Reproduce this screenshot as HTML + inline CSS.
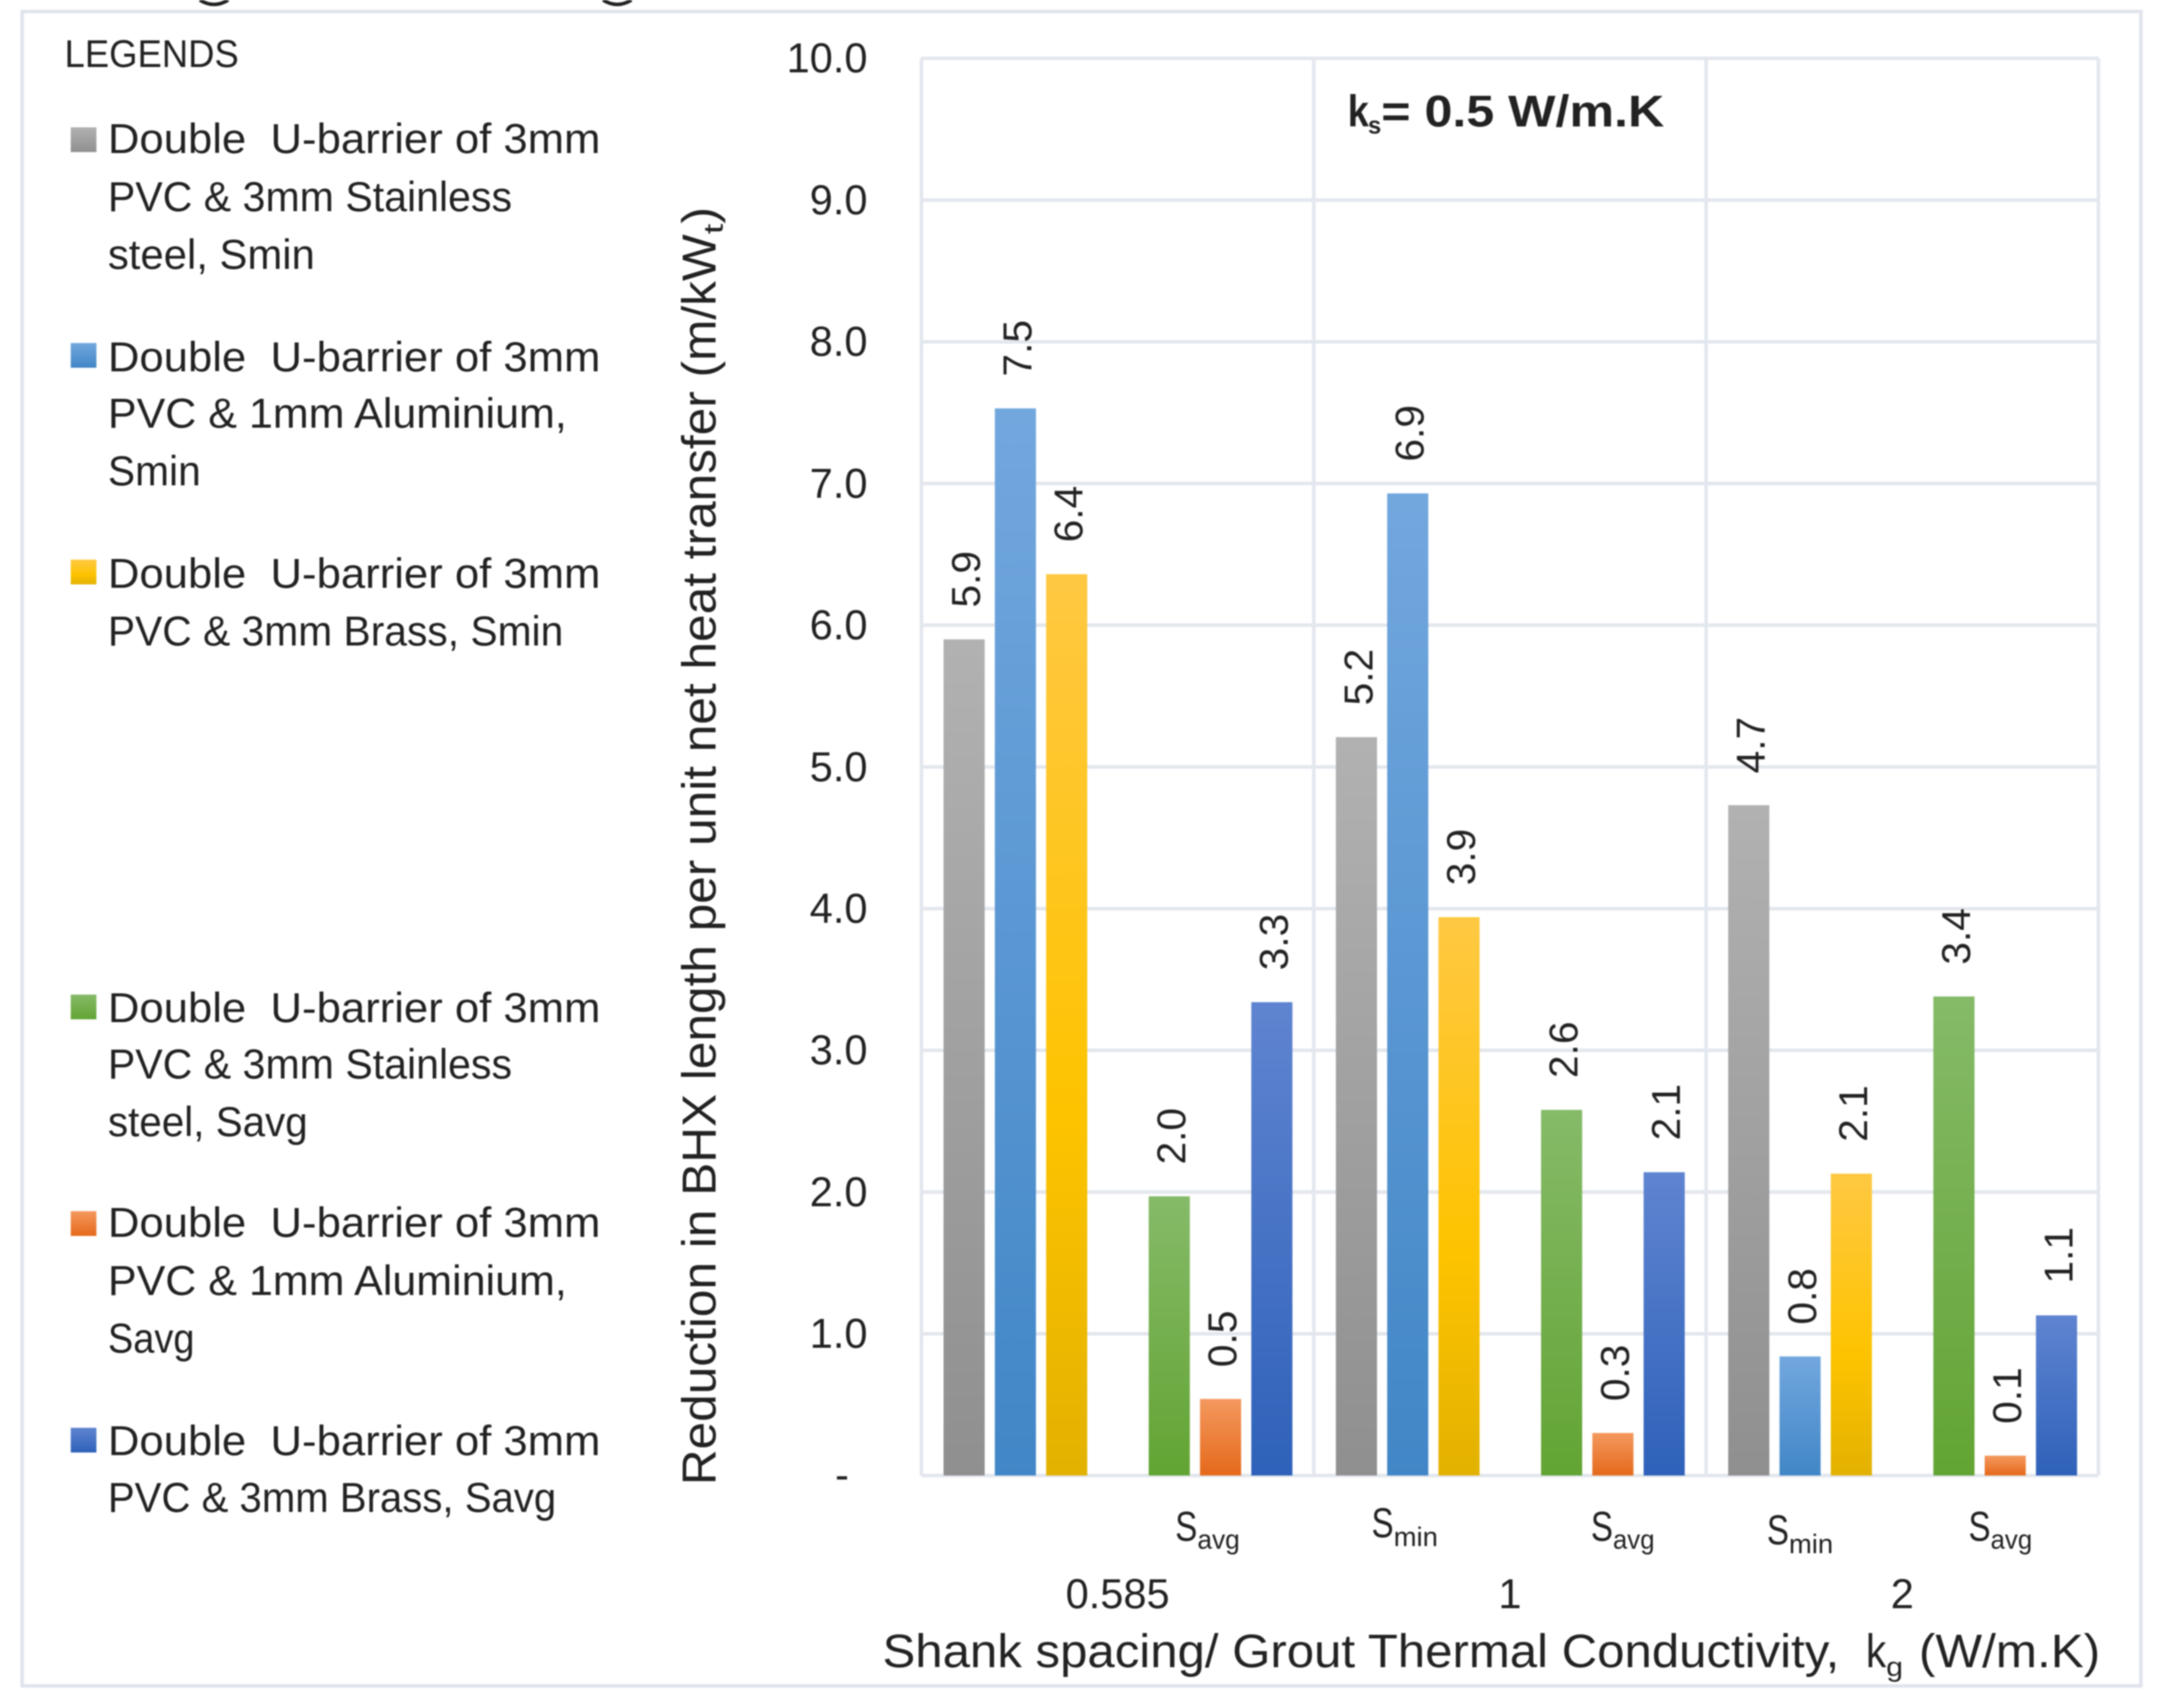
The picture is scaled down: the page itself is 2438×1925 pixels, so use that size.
<!DOCTYPE html>
<html lang="en">
<head>
<meta charset="utf-8">
<title>Reduction in BHX length chart</title>
<style>
html,body{margin:0;padding:0;background:#fff;}
svg{display:block;width:2438px;height:1925px;filter:blur(0.9px);}
text{font-family:"Liberation Sans",sans-serif;fill:#222;}
.lg{font-size:47px;}
.xs{font-size:47px;}
.sub{font-size:31px;}
</style>
</head>
<body>
<svg id="chart" xmlns="http://www.w3.org/2000/svg" width="2438" height="1925" viewBox="0 0 2446 1932" preserveAspectRatio="none">
<defs>
<linearGradient id="g0" x1="0" y1="0" x2="0" y2="1"><stop offset="0" stop-color="#b1b1b1"/><stop offset="1" stop-color="#8f8f8f"/></linearGradient>
<linearGradient id="g1" x1="0" y1="0" x2="0" y2="1"><stop offset="0" stop-color="#72a7de"/><stop offset="1" stop-color="#4186c6"/></linearGradient>
<linearGradient id="g2" x1="0" y1="0" x2="0" y2="1"><stop offset="0" stop-color="#ffc842"/><stop offset="0.6" stop-color="#fdc300"/><stop offset="1" stop-color="#e2b100"/></linearGradient>
<linearGradient id="g3" x1="0" y1="0" x2="0" y2="1"><stop offset="0" stop-color="#85ba68"/><stop offset="1" stop-color="#62a433"/></linearGradient>
<linearGradient id="g4" x1="0" y1="0" x2="0" y2="1"><stop offset="0" stop-color="#f4985e"/><stop offset="1" stop-color="#e4691a"/></linearGradient>
<linearGradient id="g5" x1="0" y1="0" x2="0" y2="1"><stop offset="0" stop-color="#5f84d0"/><stop offset="1" stop-color="#2e61b9"/></linearGradient>
</defs>

<rect width="2446" height="1932" fill="#ffffff"/>
<path d="M226 0 Q242 10 258 0" fill="none" stroke="#222" stroke-width="4"/>
<path d="M682 0 Q698 10 714 0" fill="none" stroke="#222" stroke-width="4"/>
<rect x="25" y="13" width="2396" height="1894" fill="none" stroke="#e0e4ec" stroke-width="4"/>

<g id="grid"></g>
<g id="bars"></g>
<g id="ticks"></g>
<g id="groups"></g>

<g>
<text x="73" y="76" font-size="44" textLength="197" lengthAdjust="spacingAndGlyphs">LEGENDS</text>

<g>
<rect x="80" y="144" width="29" height="28" fill="url(#g0)"/>
<text class="lg" x="122" y="173" textLength="557" lengthAdjust="spacingAndGlyphs" xml:space="preserve">Double  U-barrier of 3mm</text>
<text class="lg" x="122" y="239" textLength="457" lengthAdjust="spacingAndGlyphs">PVC &amp; 3mm Stainless</text>
<text class="lg" x="122" y="304" textLength="234" lengthAdjust="spacingAndGlyphs">steel, Smin</text>
</g>

<g>
<rect x="80" y="388" width="29" height="28" fill="url(#g1)"/>
<text class="lg" x="122" y="420" textLength="557" lengthAdjust="spacingAndGlyphs" xml:space="preserve">Double  U-barrier of 3mm</text>
<text class="lg" x="122" y="484" textLength="519" lengthAdjust="spacingAndGlyphs">PVC &amp; 1mm Aluminium,</text>
<text class="lg" x="122" y="549" textLength="105" lengthAdjust="spacingAndGlyphs">Smin</text>
</g>

<g>
<rect x="80" y="633" width="29" height="28" fill="url(#g2)"/>
<text class="lg" x="122" y="665" textLength="557" lengthAdjust="spacingAndGlyphs" xml:space="preserve">Double  U-barrier of 3mm</text>
<text class="lg" x="122" y="730" textLength="515" lengthAdjust="spacingAndGlyphs">PVC &amp; 3mm Brass, Smin</text>
</g>

<g>
<rect x="80" y="1125" width="29" height="28" fill="url(#g3)"/>
<text class="lg" x="122" y="1156" textLength="557" lengthAdjust="spacingAndGlyphs" xml:space="preserve">Double  U-barrier of 3mm</text>
<text class="lg" x="122" y="1220" textLength="457" lengthAdjust="spacingAndGlyphs">PVC &amp; 3mm Stainless</text>
<text class="lg" x="122" y="1285" textLength="226" lengthAdjust="spacingAndGlyphs">steel, Savg</text>
</g>

<g>
<rect x="80" y="1370" width="29" height="28" fill="url(#g4)"/>
<text class="lg" x="122" y="1399" textLength="557" lengthAdjust="spacingAndGlyphs" xml:space="preserve">Double  U-barrier of 3mm</text>
<text class="lg" x="122" y="1465" textLength="519" lengthAdjust="spacingAndGlyphs">PVC &amp; 1mm Aluminium,</text>
<text class="lg" x="122" y="1530" textLength="98" lengthAdjust="spacingAndGlyphs">Savg</text>
</g>

<g>
<rect x="80" y="1615" width="29" height="28" fill="url(#g5)"/>
<text class="lg" x="122" y="1646" textLength="557" lengthAdjust="spacingAndGlyphs" xml:space="preserve">Double  U-barrier of 3mm</text>
<text class="lg" x="122" y="1710" textLength="507" lengthAdjust="spacingAndGlyphs">PVC &amp; 3mm Brass, Savg</text>
</g>
</g>

<g transform="translate(809,1680) rotate(-90)">
<text x="0" y="0" font-size="54" textLength="1415" lengthAdjust="spacingAndGlyphs">Reduction in BHX length per unit net heat transfer (m/kW</text>
<text x="1415" y="8" font-size="31" textLength="12" lengthAdjust="spacingAndGlyphs">t</text>
<text x="1427" y="0" font-size="54" textLength="19" lengthAdjust="spacingAndGlyphs">)</text>
</g>

<g font-weight="700">
<text x="1524" y="143" font-size="50" textLength="24" lengthAdjust="spacingAndGlyphs">k</text>
<text x="1547" y="151" font-size="28" textLength="15" lengthAdjust="spacingAndGlyphs">s</text>
<text x="1562" y="143" font-size="50" textLength="320" lengthAdjust="spacingAndGlyphs">= 0.5 W/m.K</text>
</g>

<g>
<text class="xs" x="1329" y="1743" textLength="25" lengthAdjust="spacingAndGlyphs">S</text>
<text class="sub" x="1354" y="1752" textLength="48" lengthAdjust="spacingAndGlyphs">avg</text>
<text class="xs" x="1551" y="1739" textLength="25" lengthAdjust="spacingAndGlyphs">S</text>
<text class="sub" x="1576" y="1749" textLength="50" lengthAdjust="spacingAndGlyphs">min</text>
<text class="xs" x="1799" y="1743" textLength="25" lengthAdjust="spacingAndGlyphs">S</text>
<text class="sub" x="1824" y="1752" textLength="47" lengthAdjust="spacingAndGlyphs">avg</text>
<text class="xs" x="1998" y="1747" textLength="25" lengthAdjust="spacingAndGlyphs">S</text>
<text class="sub" x="2023" y="1757" textLength="50" lengthAdjust="spacingAndGlyphs">min</text>
<text class="xs" x="2226" y="1743" textLength="25" lengthAdjust="spacingAndGlyphs">S</text>
<text class="sub" x="2251" y="1752" textLength="47" lengthAdjust="spacingAndGlyphs">avg</text>
</g>

<g>
<text x="998" y="1886" font-size="53" textLength="1082" lengthAdjust="spacingAndGlyphs">Shank spacing/ Grout Thermal Conductivity,</text>
<text x="2110" y="1886" font-size="53" textLength="23" lengthAdjust="spacingAndGlyphs">k</text>
<text x="2133" y="1896" font-size="31" textLength="19" lengthAdjust="spacingAndGlyphs">g</text>
<text x="2170" y="1886" font-size="53" textLength="205" lengthAdjust="spacingAndGlyphs">(W/m.K)</text>
</g>
</svg>

<script>
const groupLabels = ["0.585", "1", "2"];
const yTickValues = [0, 1, 2, 3, 4, 5, 6, 7, 8, 9, 10];
const yTickLabels = ["-", "1.0", "2.0", "3.0", "4.0", "5.0", "6.0", "7.0", "8.0", "9.0", "10.0"];
const stainlessSmin = [5.90, 5.21, 4.73];
const aluminiumSmin = [7.53, 6.93, 0.84];
const brassSmin = [6.36, 3.94, 2.13];
const stainlessSavg = [1.97, 2.58, 3.38];
const aluminiumSavg = [0.54, 0.30, 0.14];
const brassSavg = [3.34, 2.14, 1.13];

const NS = "http://www.w3.org/2000/svg";
const plotLeft = 1042, plotRight = 2373, plotTop = 66, plotBottom = 1669;
const yMax = 10;
const groupPad = 25, slotPitch = 58, barWidth = 46.5;
const seriesList = [
  { key: "stainless-smin", slot: 0, fill: "url(#g0)", values: stainlessSmin },
  { key: "aluminium-smin", slot: 1, fill: "url(#g1)", values: aluminiumSmin },
  { key: "brass-smin", slot: 2, fill: "url(#g2)", values: brassSmin },
  { key: "stainless-savg", slot: 4, fill: "url(#g3)", values: stainlessSavg },
  { key: "aluminium-savg", slot: 5, fill: "url(#g4)", values: aluminiumSavg },
  { key: "brass-savg", slot: 6, fill: "url(#g5)", values: brassSavg }
];

function yScale(v) {
  return plotBottom - (v / yMax) * (plotBottom - plotTop);
}
function groupWidth() {
  return (plotRight - plotLeft) / groupLabels.length;
}
function groupLeft(g) {
  return plotLeft + g * groupWidth();
}
function xScale(g, slot) {
  return groupLeft(g) + groupPad + slot * slotPitch;
}
function make(tag, attrs, parent) {
  const el = document.createElementNS(NS, tag);
  for (const k in attrs) el.setAttribute(k, attrs[k]);
  parent.appendChild(el);
  return el;
}

const gridLayer = document.getElementById("grid");
const barLayer = document.getElementById("bars");
const tickLayer = document.getElementById("ticks");
const groupLayer = document.getElementById("groups");

yTickValues.forEach(function (t, i) {
  const line = make("line", { x1: plotLeft, x2: plotRight, y1: yScale(t), y2: yScale(t), stroke: "#e3e7ee", "stroke-width": 4 }, gridLayer);
  
  
  const label = make("text", { x: t === 0 ? 960 : 981, y: yScale(t) + (t === 0 ? 15 : 16), "text-anchor": "end", "font-size": 47 }, tickLayer);
  
  
  label.textContent = yTickLabels[i];
});

for (let g = 0; g <= groupLabels.length; g++) {
  const line = make("line", { x1: groupLeft(g), x2: groupLeft(g), y1: plotTop, y2: plotBottom, stroke: "#e3e7ee", "stroke-width": 4 }, gridLayer);
  
  
}

groupLabels.forEach(function (name, g) {
  const label = make("text", { x: groupLeft(g) + groupWidth() / 2, y: 1819, "text-anchor": "middle", "font-size": 47 }, groupLayer);
  
  
  label.textContent = name;
});

seriesList.forEach(function (s) {
  s.values.forEach(function (v, g) {
    const x = xScale(g, s.slot);
    const top = yScale(v);
    const bar = make("rect", { x: x, y: top, width: barWidth, height: plotBottom - top, fill: s.fill }, barLayer);
    
    
    const cx = x + barWidth / 2 + 18;
    const cy = top - 36;
    const label = make("text", { transform: "translate(" + cx + "," + cy + ") rotate(-90)", "font-size": 46 }, barLayer);
    
    
    label.textContent = v.toFixed(1);
  });
});
</script>
</body>
</html>
